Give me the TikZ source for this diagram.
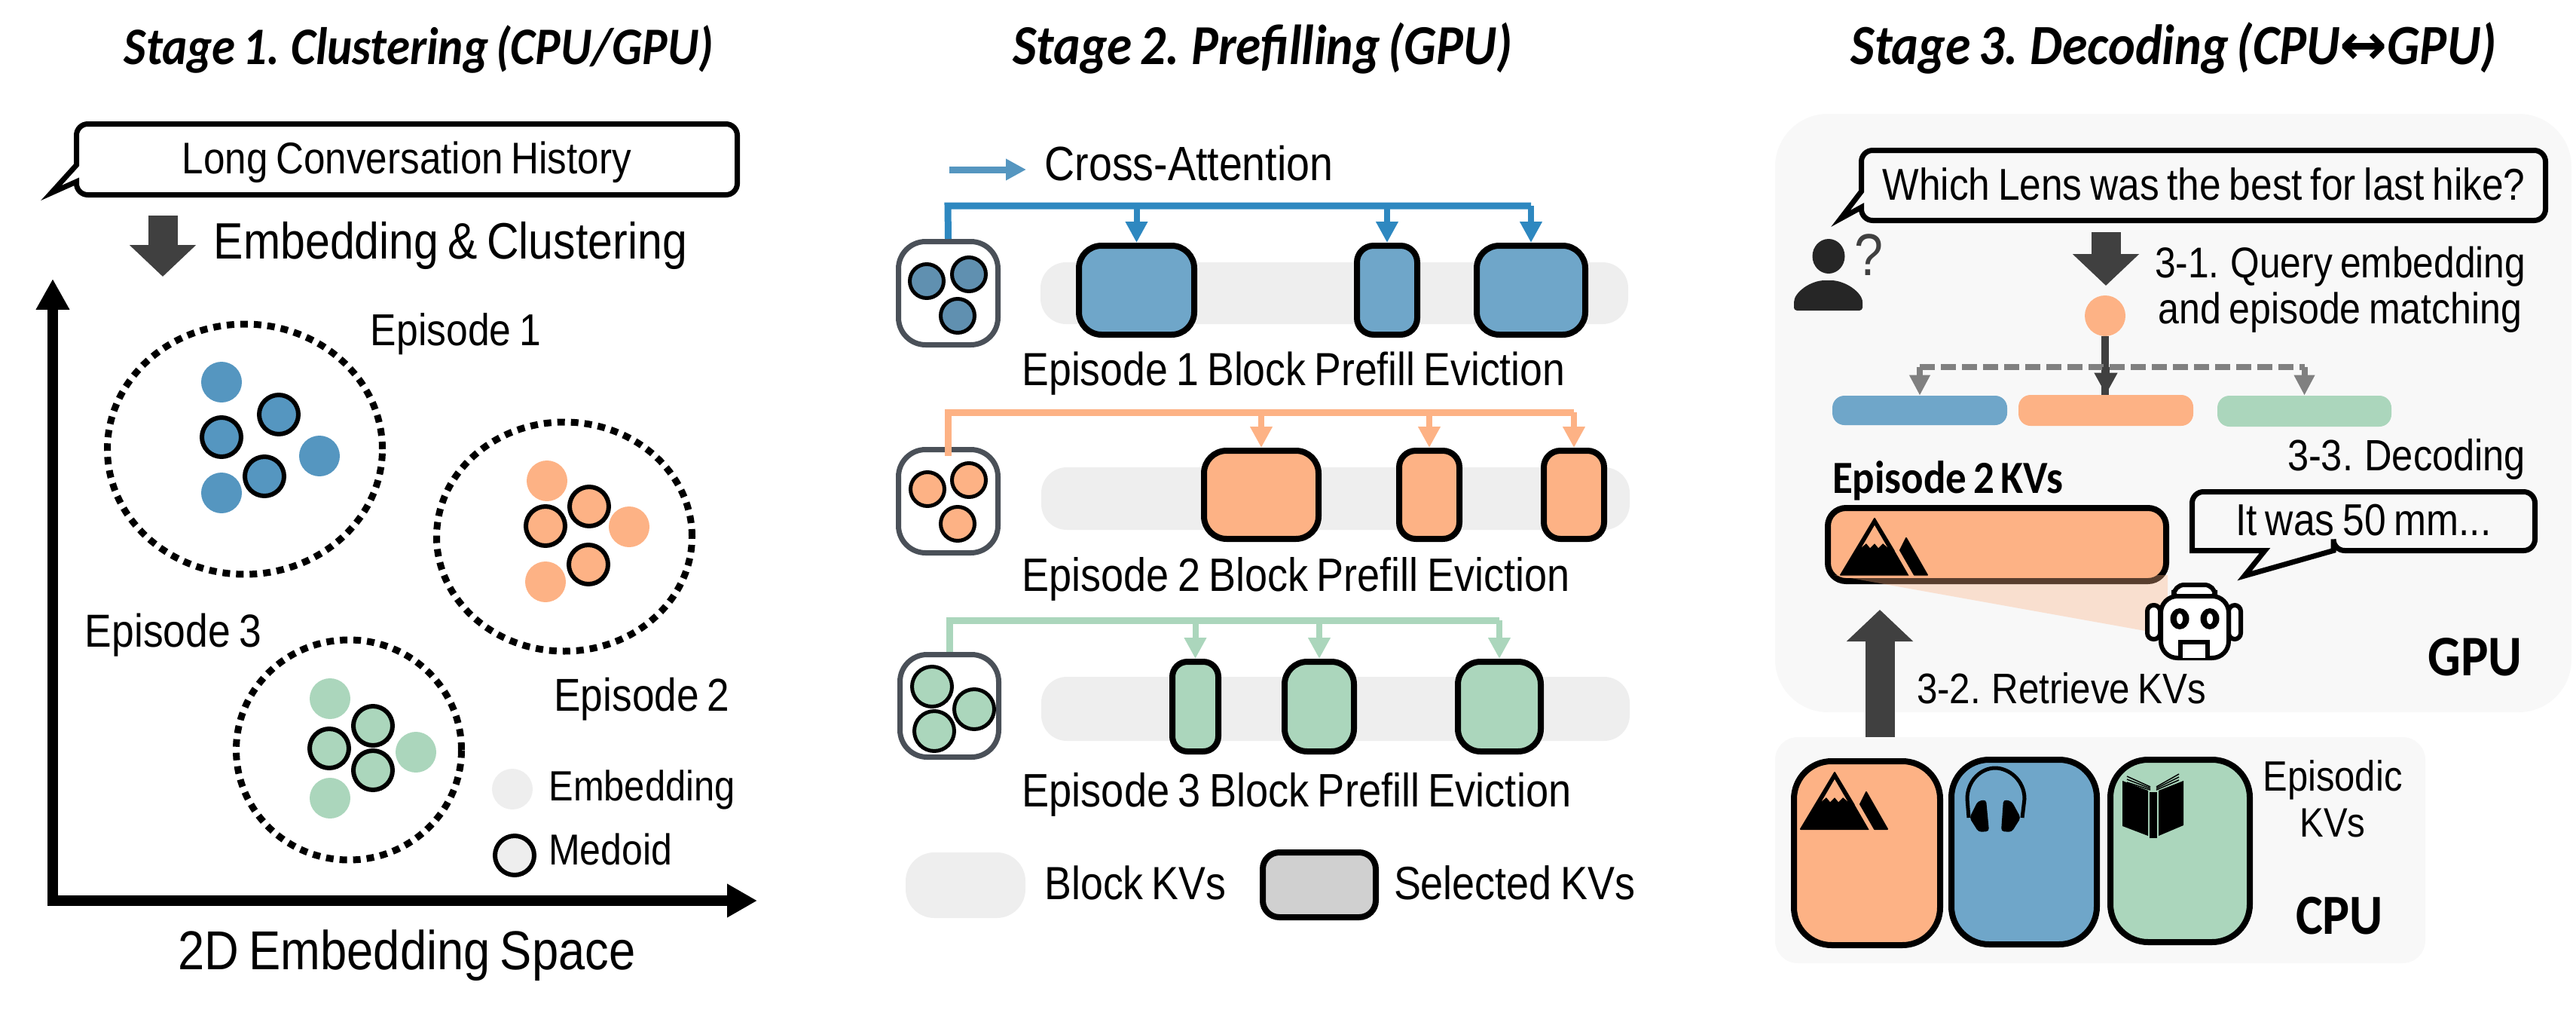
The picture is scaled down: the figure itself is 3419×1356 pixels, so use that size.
\documentclass[tikz,border=0pt]{standalone}
\usepackage{graphicx}
\usepackage{fontspec}
\setmainfont[FakeStretch=0.87,WordSpace=0.75]{Liberation Sans}
\newfontfamily\titlef[FakeStretch=0.9,WordSpace=0.7]{Carlito}
\newfontfamily\arrowf{DejaVu Sans}
\usetikzlibrary{arrows.meta,shapes.geometric}
\newdimen\pxu \pxu=0.02cm
\definecolor{cblue}{HTML}{6FA6C9}
\definecolor{dblue}{HTML}{5596C0}
\definecolor{lblue}{HTML}{2E88C0}
\definecolor{iblue}{HTML}{6090B0}
\definecolor{corange}{HTML}{FDB285}
\definecolor{cgreen}{HTML}{ABD6BC}
\definecolor{lgray}{HTML}{EEEEEE}
\definecolor{pgray}{HTML}{F8F8F8}
\definecolor{sgray}{HTML}{D0D0D0}
\definecolor{igray}{HTML}{4A5058}
\definecolor{dgray}{HTML}{404040}
\definecolor{mgray}{HTML}{808080}
\tikzset{
  txt/.style={anchor=base,inner sep=0pt,outer sep=0pt,text=black},
  rbox/.style={rectangle,inner sep=0pt,draw=none},
  kv/.style={rbox,draw=black,line width=8\pxu,rounded corners=30\pxu},
  kvb/.style={kv,rounded corners=50\pxu},
  gbar/.style={rbox,fill=lgray,rounded corners=34\pxu},
  icon/.style={rbox,draw=igray,fill=white,line width=7\pxu,rounded corners=36\pxu},
  pdot/.style={circle,inner sep=0pt,minimum size=54\pxu},
  mdot/.style={circle,inner sep=0pt,minimum size=52\pxu,draw=black,line width=6\pxu},
  idot/.style={circle,inner sep=0pt,minimum size=45\pxu,draw=black,line width=5\pxu},
  idotb/.style={circle,inner sep=0pt,minimum size=53\pxu,draw=black,line width=5\pxu},
  ring/.style={ellipse,inner sep=0pt,draw=black,line width=9\pxu,dash pattern=on 10\pxu off 8\pxu},
  conn/.style={line width=9\pxu,line join=miter},
  conntip/.style={line width=8\pxu,-{Triangle[width=0.56cm,length=0.56cm]}},
  fat/.style={dgray,line width=39\pxu,-{Triangle[width=1.72cm,length=0.84cm]}},
  bubble/.style={draw=black,line width=7\pxu,line join=miter},
  rob/.style={rbox,draw=black,fill=white,line width=6\pxu,rounded corners=14\pxu},
}
% style, name, x1, y1, x2, y2, stroke: x1..y2 are outer edges
\newcommand\bx[7]{\node[#1,minimum width={(#5-#3-#7)*\pxu},minimum height={(#6-#4-#7)*\pxu}] (#2) at ({(#3+#5)/2},{(#4+#6)/2}) {};}
\newcommand\tx[5]{\node[txt] (#1) at (#2,#3) {\resizebox{#4\pxu}{!}{\fontsize{30}{36}\selectfont #5}};}
\newcommand\ti[5]{\node[txt] (#1) at (#2,#3) {\resizebox{#4\pxu}{!}{\fontsize{30}{36}\selectfont\titlef\bfseries\itshape #5}};}
\newcommand\tb[5]{\node[txt] (#1) at (#2,#3) {\resizebox{#4\pxu}{!}{\fontsize{30}{36}\selectfont\titlef\bfseries #5}};}
\newcommand\dt[4]{\node[#1] (#2) at (#3,#4) {};}
\newcommand\mountain[3]{%
  \begin{scope}[shift={(#1,#2)}]
    \fill[black,line join=round,draw=black,line width=2\pxu] (0,0) -- (45,75) -- (-45,75) -- cycle;
    \fill[black,line join=round,draw=black,line width=2\pxu] (42,26) -- (70,75) -- (53,75) -- (34,42) -- cycle;
    \fill[#3] (0,9) -- (17,38) -- (11,33) -- (5,39) -- (0,33) -- (-6,39) -- (-11,33) -- (-17,38) -- cycle;
    \draw[#3,line width=3\pxu] (47,75) -- (28,42);
  \end{scope}}
\begin{document}
\begin{tikzpicture}[x=0.02cm,y=-0.02cm]
\useasboundingbox (0,0) rectangle (3419,1356);
% titles
\ti{t1}{556}{85}{782}{Stage 1. Clustering (CPU/GPU)}
\ti{t2}{1676}{85}{663}{Stage 2. Prefilling (GPU)}
\ti{t3}{2885}{85}{857}{Stage 3. Decoding (CPU{\arrowf ↔}GPU)}
% ---------- stage 1
\draw[bubble] (101.5,219) [rounded corners=15\pxu] -- (101.5,164.5) -- (978.5,164.5) -- (978.5,258.5) -- (101.5,258.5) [sharp corners] -- (101.5,241) -- (68,256) -- cycle;
\tx{hist}{540}{230}{596}{Long Conversation History}
\coordinate (fa1s) at (216,286);
\coordinate (fa1e) at (216,367);
\draw[fat] (fa1s) -- (fa1e);
\tx{emb}{598}{343}{628}{Embedding \& Clustering}
\coordinate (ytip) at (70,370);
\coordinate (org) at (70,1195);
\coordinate (xtip) at (1005,1195);
\draw[line width=14\pxu,line join=miter,{Triangle[width=0.84cm,length=0.82cm]}-{Triangle[width=0.84cm,length=0.8cm]}] (ytip) -- (org) -- (xtip);
\node[ring,minimum width=365\pxu,minimum height=332\pxu] (r1) at (325,596) {};
\node[ring,minimum width=339\pxu,minimum height=304\pxu] (r2) at (749,712) {};
\node[ring,minimum width=299\pxu,minimum height=292\pxu] (r3) at (463,995) {};
\dt{pdot,fill=dblue}{a1}{294}{507}\dt{pdot,fill=dblue}{a2}{424}{605}\dt{pdot,fill=dblue}{a3}{294}{654}
\dt{mdot,fill=dblue}{a4}{370}{550}\dt{mdot,fill=dblue}{a5}{294}{580}\dt{mdot,fill=dblue}{a6}{351}{632}
\dt{pdot,fill=corange}{b1}{726}{638}\dt{pdot,fill=corange}{b2}{835}{699}\dt{pdot,fill=corange}{b3}{724}{772}
\dt{mdot,fill=corange}{b4}{782}{672}\dt{mdot,fill=corange}{b5}{724}{698}\dt{mdot,fill=corange}{b6}{781}{749}
\dt{pdot,fill=cgreen}{c1}{438}{927}\dt{pdot,fill=cgreen}{c2}{552}{998}\dt{pdot,fill=cgreen}{c3}{438}{1059}
\dt{mdot,fill=cgreen}{c4}{495}{963}\dt{mdot,fill=cgreen}{c5}{437}{993}\dt{mdot,fill=cgreen}{c6}{495}{1022}
\dt{pdot,fill=lgray}{le}{680}{1047}\dt{mdot,fill=lgray}{lm}{683}{1135}
\tx{ep1}{605}{458}{226}{Episode 1}
\tx{ep2}{852}{943}{233}{Episode 2}
\tx{ep3}{230}{858}{234}{Episode 3}
\tx{lemb}{852}{1062}{247}{Embedding}
\tx{lmed}{810}{1147}{164}{Medoid}
\tx{space}{540}{1286}{607}{2D Embedding Space}
% ---------- stage 2
\coordinate (cas) at (1260,225);
\coordinate (cae) at (1362,225);
\draw[dblue,line width=9\pxu,-{Triangle[width=0.54cm,length=0.54cm]}] (cas) -- (cae);
\tx{ca}{1578}{239}{383}{Cross-Attention}
% row 1
\bx{gbar}{g1}{1381}{348}{2161}{430}{0}
\bx{icon}{ic1}{1189}{317}{1328}{461}{7}
\dt{idot,fill=iblue}{d11}{1230}{373}\dt{idot,fill=iblue}{d12}{1286}{364}\dt{idot,fill=iblue}{d13}{1271}{419}
\bx{kv,fill=cblue}{b11}{1428}{322}{1589}{448}{8}
\bx{kv,fill=cblue,rounded corners=22\pxu}{b12}{1797}{322}{1885}{448}{8}
\bx{kv,fill=cblue}{b13}{1956}{322}{2108}{448}{8}
\coordinate (tr1) at (1258,273);
\draw[conn,lblue] (ic1.north) -- (tr1) -- (tr1 -| b13.north);
\draw[conntip,lblue] (tr1 -| b11.north) -- (b11.north);
\draw[conntip,lblue] (tr1 -| b12.north) -- (b12.north);
\draw[conntip,lblue] (tr1 -| b13.north) -- (b13.north);
\tx{l1}{1717}{511}{721}{Episode 1 Block Prefill Eviction}
% row 2
\bx{gbar}{g2}{1382}{620}{2163}{703}{0}
\bx{icon}{ic2}{1189}{593}{1328}{737}{7}
\dt{idot,fill=corange}{d21}{1231}{649}\dt{idot,fill=corange}{d22}{1286}{637}\dt{idot,fill=corange}{d23}{1271}{695}
\bx{kv,fill=corange}{b21}{1594}{594}{1754}{719}{8}
\bx{kv,fill=corange,rounded corners=22\pxu}{b22}{1853}{594}{1941}{719}{8}
\bx{kv,fill=corange,rounded corners=22\pxu}{b23}{2045}{594}{2133}{719}{8}
\coordinate (tr2) at (1258,547);
\coordinate (st2) at (1258,605);
\draw[conn,corange] (st2) -- (tr2) -- (tr2 -| b23.north);
\draw[conntip,corange] (tr2 -| b21.north) -- (b21.north);
\draw[conntip,corange] (tr2 -| b22.north) -- (b22.north);
\draw[conntip,corange] (tr2 -| b23.north) -- (b23.north);
\tx{l2}{1720}{784}{727}{Episode 2 Block Prefill Eviction}
% row 3
\bx{gbar}{g3}{1382}{898}{2163}{983}{0}
\bx{icon}{ic3}{1191}{865}{1329}{1008}{7}
\dt{idotb,fill=cgreen}{d31}{1237}{911}\dt{idotb,fill=cgreen}{d32}{1293}{941}\dt{idotb,fill=cgreen}{d33}{1240}{970}
\bx{kv,fill=cgreen,rounded corners=20\pxu}{b31}{1552}{874}{1621}{1001}{8}
\bx{kv,fill=cgreen}{b32}{1701}{874}{1801}{1001}{8}
\bx{kv,fill=cgreen}{b33}{1931}{874}{2049}{1001}{8}
\coordinate (tr3) at (1260,823);
\draw[conn,cgreen] (ic3.north) -- (tr3) -- (tr3 -| b33.north);
\draw[conntip,cgreen] (tr3 -| b31.north) -- (b31.north);
\draw[conntip,cgreen] (tr3 -| b32.north) -- (b32.north);
\draw[conntip,cgreen] (tr3 -| b33.north) -- (b33.north);
\tx{l3}{1721}{1070}{729}{Episode 3 Block Prefill Eviction}
% legend
\bx{gbar,rounded corners=38\pxu}{lg}{1202}{1131}{1361}{1218}{0}
\tx{lgt}{1507}{1193}{241}{Block KVs}
\bx{kv,fill=sgray,rounded corners=22\pxu}{ls}{1672}{1127}{1830}{1221}{8}
\tx{lst}{2010}{1193}{320}{Selected KVs}
% ---------- stage 3
\bx{rbox,fill=pgray,rounded corners=70\pxu}{gpu}{2356}{151}{3413}{945}{0}
\bx{rbox,fill=pgray,rounded corners=30\pxu}{cpu}{2356}{978}{3219}{1278}{0}
\draw[bubble,fill=pgray] (2470.5,254) [rounded corners=15\pxu] -- (2470.5,199.5) -- (3378.5,199.5) -- (3378.5,292.5) -- (2470.5,292.5) [sharp corners] -- (2470.5,275) -- (2443,290) -- cycle;
\tx{q}{2925}{265}{853}{Which Lens was the best for last hike?}
\coordinate (fa2s) at (2795,308);
\coordinate (fa2e) at (2795,379);
\draw[fat] (fa2s) -- (fa2e);
\tx{s31a}{3106}{368}{492}{3-1. Query embedding}
\tx{s31b}{3106}{429}{483}{and episode matching}
\node[pdot,fill=corange] (qd) at (2794,419) {};
% person
\node[ellipse,inner sep=0pt,fill=black!85,minimum width=43\pxu,minimum height=46\pxu] (phead) at (2427,340) {};
\fill[black!85,rounded corners=4\pxu] (2381,412) -- (2381,405) .. controls (2381,388) and (2403,372) .. (2426,372) .. controls (2449,372) and (2472,388) .. (2472,405) -- (2472,412) -- cycle;
\node[txt,text=dgray] (pq) at (2480,365) {\resizebox{38\pxu}{!}{\fontsize{30}{36}\selectfont ?}};
% selector
\bx{rbox,fill=cblue,rounded corners=16\pxu}{s1}{2432}{525}{2664}{564}{0}
\bx{rbox,fill=corange,rounded corners=16\pxu}{s2}{2679}{524}{2911}{565}{0}
\bx{rbox,fill=cgreen,rounded corners=16\pxu}{s3}{2943}{525}{3174}{566}{0}
\coordinate (dl) at (2795,487);
\draw[dgray,line width=10\pxu] (qd.south) -- (qd.south |- s2.north);
\draw[mgray,line width=8\pxu,dash pattern=on 20\pxu off 8\pxu] (dl -| s1.north) -- (dl -| s3.north);
\draw[line width=8\pxu,mgray,-{Triangle[width=0.52cm,length=0.54cm]}] (dl -| s1.north) -- (s1.north);
\draw[line width=8\pxu,mgray,-{Triangle[width=0.52cm,length=0.54cm]}] (dl -| s3.north) -- (s3.north);
\draw[dgray,line width=10\pxu,-{Triangle[width=0.58cm,length=0.58cm]}] (dl) -- (dl |- s2.north);
\tx{s33}{3194}{624}{316}{3-3. Decoding}
\tb{e2}{2585}{654}{306}{Episode 2 KVs}
\bx{kv,fill=corange,rounded corners=24\pxu}{ebox}{2422}{670}{2879}{775}{8}
\mountain{2488}{688}{corange}
% cone
\fill[corange,opacity=0.35] (2434,763) -- (2877,763) -- (2877,830) -- (2847,837) -- cycle;
% answer bubble
\draw[bubble,fill=pgray] (3006,730.5) -- (2909.5,730.5) [rounded corners=15\pxu] -- (2909.5,730.5) -- (2909.5,652.5) -- (3364.5,652.5) -- (3364.5,730.5) -- (3097,730.5) [sharp corners] -- (3097,730.5) -- (2979,764) -- (3006,730.5) -- cycle;
\tx{ans}{3137}{710}{339}{It was 50 mm...}
% robot
\bx{rob}{ra}{2882}{773}{2943}{800}{6}
\bx{rob,rounded corners=8\pxu}{el}{2847}{800}{2870}{851}{6}
\bx{rob,rounded corners=8\pxu}{er}{2955}{800}{2977}{851}{6}
\bx{rob,rounded corners=22\pxu}{rb}{2865}{788}{2961}{876}{6}
\node[ellipse,inner sep=0pt,fill=black,minimum width=25\pxu,minimum height=28\pxu] (re1) at (2893,821) {};
\node[ellipse,inner sep=0pt,fill=black,minimum width=25\pxu,minimum height=28\pxu] (re2) at (2933,821) {};
\node[ellipse,inner sep=0pt,fill=white,minimum width=8\pxu,minimum height=14\pxu] (rw1) at (2893,821) {};
\node[ellipse,inner sep=0pt,fill=white,minimum width=8\pxu,minimum height=14\pxu] (rw2) at (2933,821) {};
\draw[black,line width=6\pxu,fill=white] (2894,873) -- (2894,852) -- (2930,852) -- (2930,873);
\tb{gput}{3285}{896}{125}{GPU}
% retrieve arrow
\coordinate (fa3s) at (2495,978);
\coordinate (fa3e) at (2495,809);
\draw[fat] (fa3s) -- (fa3e);
\tx{s32}{2736}{933}{384}{3-2. Retrieve KVs}
% episodic KVs
\bx{kvb,fill=corange}{k1}{2377}{1006}{2579}{1258}{8}
\bx{kvb,fill=cblue}{k2}{2586}{1004}{2787}{1257}{8}
\bx{kvb,fill=cgreen}{k3}{2797}{1004}{2990}{1254}{8}
\mountain{2435}{1025}{corange}
% headphones
\draw[black,line width=5\pxu] (2613,1085) -- (2611,1060) .. controls (2611,1035) and (2630,1019) .. (2648,1019) .. controls (2666,1019) and (2687,1035) .. (2687,1060) -- (2684,1085);
\fill[black,rounded corners=4\pxu] (2625,1063) -- (2636,1061) -- (2640,1103) -- (2626,1104) -- (2614,1085) -- cycle;
\fill[black,rounded corners=4\pxu] (2670,1063) -- (2659,1061) -- (2656,1103) -- (2670,1104) -- (2682,1085) -- cycle;
% book
\fill[black] (2817,1036) -- (2851,1049) -- (2851,1109) -- (2817,1096) -- cycle;
\fill[black] (2898,1036) -- (2865,1049) -- (2865,1109) -- (2898,1095) -- cycle;
\fill[black] (2853,1051) rectangle (2863,1112);
\foreach \dy in {0,4,8}{
  \draw[black,line width=1.5\pxu] (2823,1030+\dy) -- (2854,1044+\dy*.5);
  \draw[black,line width=1.5\pxu] (2892,1027+\dy) -- (2862,1044+\dy*.5);
}
\tx{kvt1}{3096}{1049}{185}{Episodic}
\tx{kvt2}{3096}{1110}{87}{KVs}
\tb{cput}{3105}{1239}{116}{CPU}
\end{tikzpicture}
\end{document}
